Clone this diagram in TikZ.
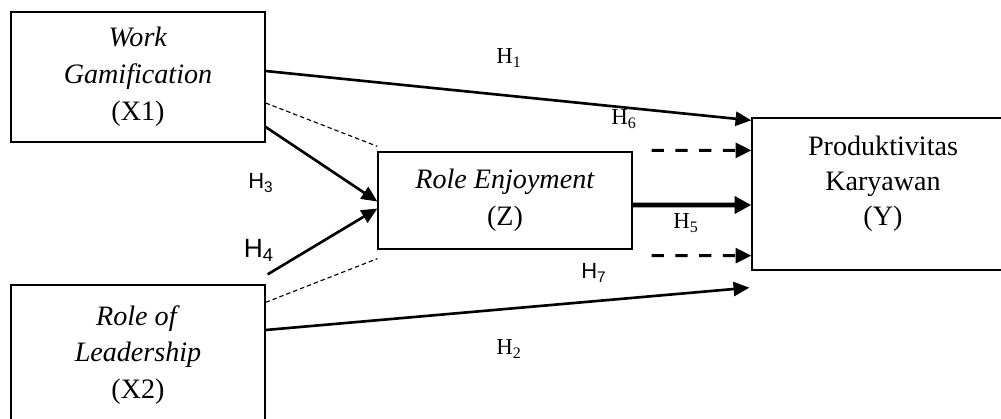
\documentclass[tikz,border=0pt]{standalone}
\usepackage{fontspec}
\setmainfont{Liberation Serif}
\newfontfamily\arialfont{Liberation Sans}
\usetikzlibrary{arrows.meta,calc}

\begin{document}
\begin{tikzpicture}[x=0.02cm, y=-0.02cm,
  varbox/.style={draw, line width=0.75pt, minimum width=5.08cm, align=center, inner sep=0pt, font=\fontsize{16}{21}\selectfont},
  hyp/.style={font=\fontsize{13}{15}\selectfont},
  hypsans/.style={font=\arialfont\fontsize{12.5}{15}\selectfont},
  mainarrow/.style={line width=1.5pt, -{Triangle[length=9pt,width=8pt]}},
  thinlink/.style={line width=0.65pt, dash pattern=on 2.5pt off 1.7pt},
  dasharrow/.style={line width=1.8pt, dash pattern=on 7pt off 6.5pt, -{Triangle[length=9pt,width=8.5pt]}}]
\useasboundingbox (0,0) rectangle (1001,419);

% variables
\node[varbox, minimum height=2.6cm] (x1) at (138,77) {\textit{Work}\\\textit{Gamification}\\(X1)};
\node[varbox, minimum height=2.8cm] (x2) at (138,355) {\textit{Role of}\\\textit{Leadership}\\(X2)};
\node[varbox, minimum height=1.94cm] (z) at (505,200.5) {\textit{Role Enjoyment}\\(Z)};
\node[varbox, minimum width=5.24cm, minimum height=3.04cm] (prod) at (883,194) {};
\node[font=\fontsize{16}{20}\selectfont, align=center] (prodtext) at (883,184) {Produktivitas\\Karyawan\\(Y)};

% hypothesis labels
\node[hyp] (h1) at (509,58) {H\textsubscript{1}};
\node[hyp] (h6) at (624,119) {H\textsubscript{6}};
\node[hypsans] (h3) at (261,183) {H\textsubscript{3}};
\node[hypsans, font=\arialfont\fontsize{15}{17}\selectfont] (h4) at (259,250) {H\textsubscript{4}};
\node[hyp] (h5) at (686,223) {H\textsubscript{5}};
\node[hypsans] (h7) at (594,273) {H\textsubscript{7}};
\node[hyp] (h2) at (509,349) {H\textsubscript{2}};

% paths
\draw[mainarrow] ($(x1.east)+(0,-6)$) -- ($(prod.north west)+(0,3)$);
\draw[thinlink] ($(x1.east)+(0,26)$) -- ($(z.north west)+(0,-5)$);
\draw[mainarrow] ($(x1.east)+(0,50)$) -- ($(z.west)+(0,1)$);
\draw[mainarrow] ($(x2.north east)+(2,-10)$) -- ($(z.west)+(0,8)$);
\draw[thinlink] ($(x2.north east)+(0,18)$) -- ($(z.south west)+(0,9)$);
\draw[mainarrow] ($(x2.east)+(0,-25)$) -- ($(prod.south west)+(-2,17)$);
\draw[line width=2.8pt, -{Triangle[length=9.5pt,width=9.5pt]}] ($(z.east)+(0,4.5)$) -- ($(prod.west)+(0,11)$);
\draw[dasharrow] ($(z.north east)+(19,-1)$) -- ($(prod.north west)+(0,33)$);
\draw[dasharrow] ($(z.south east)+(19,6)$) -- ($(prod.south west)+(0,-15)$);
\end{tikzpicture}
\end{document}
